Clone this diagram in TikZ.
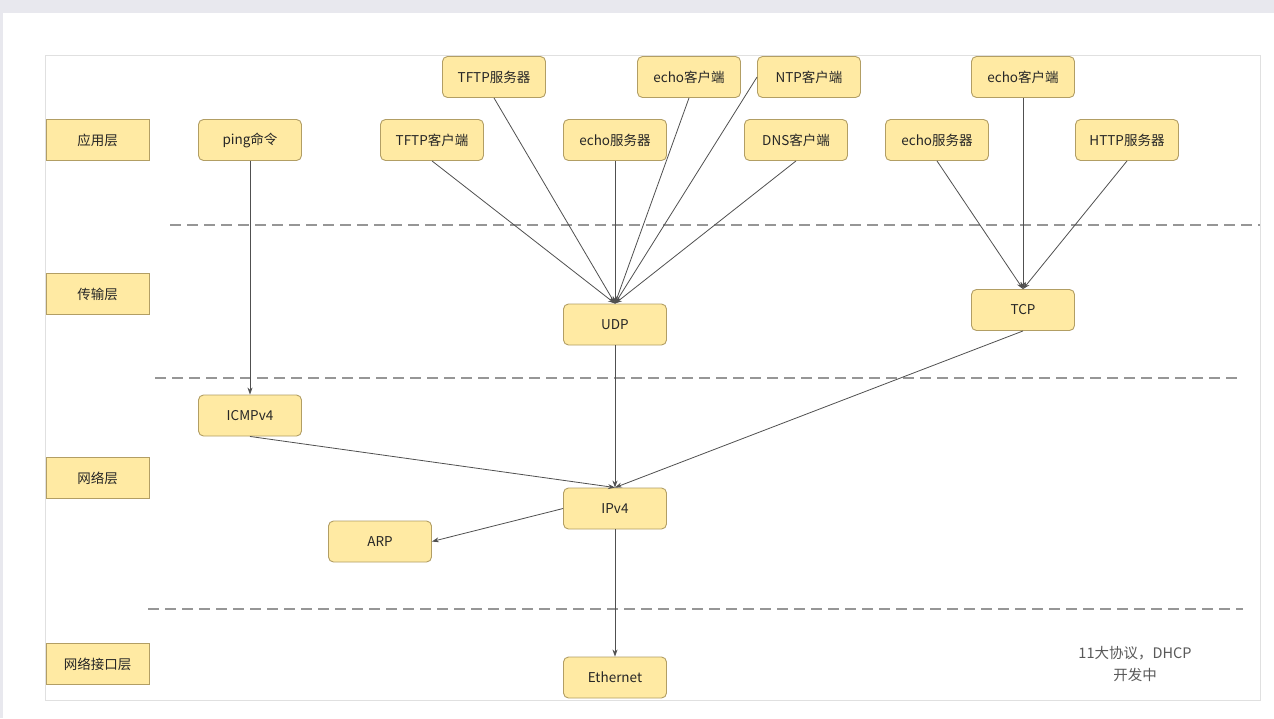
\documentclass[tikz,border=0pt]{standalone}
\usepackage{fontspec}
\setmainfont{Noto Sans CJK SC}
\usepackage{tikz}
\usetikzlibrary{arrows.meta}
\definecolor{boxfill}{RGB}{255,234,163}
\definecolor{boxline}{RGB}{178,158,100}
\definecolor{wireline}{RGB}{80,80,80}
\definecolor{dashline}{RGB}{150,150,150}
\definecolor{pagegrey}{RGB}{232,232,238}

\begin{document}
\begin{tikzpicture}[x=1pt,y=-1pt,
  proto/.style={draw=boxline,fill=boxfill,line width=0.9pt,rounded corners=5pt,minimum width=103pt,minimum height=41pt,font=\fontsize{13.5}{15}\selectfont,text=black!85},
  layer/.style={proto,rounded corners=0pt},
  wire/.style={draw=wireline,line width=0.8pt,-{Stealth[length=7pt,width=5pt]}},
  sep/.style={draw=dashline,line width=1.1pt,dash pattern=on 11pt off 6pt}]
\useasboundingbox (0,0) rectangle (1274,718);
\fill[pagegrey] (0,0) rectangle (1274,718);
\fill[white] (3,13) rectangle (1274,718);
\draw[black!12,line width=0.8pt] (45,55) rectangle (1260,700);

\node[layer] (app) at (97.5,140) {应用层};
\node[layer] (trans) at (97.5,294) {传输层};
\node[layer] (net) at (97.5,478) {网络层};
\node[layer] (link) at (97.5,664) {网络接口层};

\node[proto] (ping) at (250,140) {ping命令};
\node[proto] (tftpc) at (432,140) {TFTP客户端};
\node[proto] (tftps) at (494,77) {TFTP服务器};
\node[proto] (echos) at (615,140) {echo服务器};
\node[proto] (echoc) at (689,77) {echo客户端};
\node[proto] (ntpc) at (809,77) {NTP客户端};
\node[proto] (dnsc) at (796,140) {DNS客户端};
\node[proto] (techos) at (937,140) {echo服务器};
\node[proto] (techoc) at (1023,77) {echo客户端};
\node[proto] (https) at (1127,140) {HTTP服务器};

\node[proto] (udp) at (615,324.5) {UDP};
\node[proto] (tcp) at (1023,310) {TCP};
\node[proto] (icmp) at (250,415.5) {ICMPv4};
\node[proto] (ipv4) at (615,508.5) {IPv4};
\node[proto] (arp) at (380,541.5) {ARP};
\node[proto] (eth) at (615,677.5) {Ethernet};

\node[font=\fontsize{14.5}{22}\selectfont,text=black!65,align=center] (note) at (1135,664) {11大协议，DHCP\\开发中};

\draw[sep] (170,225) -- (1260,225);
\draw[sep] (155,378) -- (1243,378);
\draw[sep] (148,609) -- (1243,609);

\draw[wire] (tftpc.south) -- (udp.north);
\draw[wire] (tftps.south) -- (udp.north);
\draw[wire] (echos.south) -- (udp.north);
\draw[wire] (echoc.south) -- (udp.north);
\draw[wire] (ntpc.west) -- (udp.north);
\draw[wire] (dnsc.south) -- (udp.north);
\draw[wire] (techos.south) -- (tcp.north);
\draw[wire] (techoc.south) -- (tcp.north);
\draw[wire] (https.south) -- (tcp.north);
\draw[wire] (ping.south) -- (icmp.north);
\draw[wire] (icmp.south) -- (ipv4.north);
\draw[wire] (udp.south) -- (ipv4.north);
\draw[wire] (tcp.south) -- (ipv4.north);
\draw[wire] (ipv4.west) -- (arp.east);
\draw[wire] (ipv4.south) -- (eth.north);
\end{tikzpicture}
\end{document}
